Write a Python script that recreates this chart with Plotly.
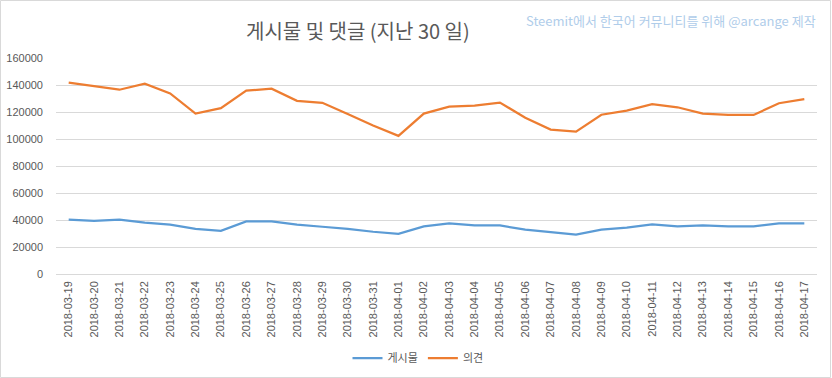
import plotly.graph_objects as go

dates = ["2018-03-19","2018-03-20","2018-03-21","2018-03-22","2018-03-23","2018-03-24",
         "2018-03-25","2018-03-26","2018-03-27","2018-03-28","2018-03-29","2018-03-30",
         "2018-03-31","2018-04-01","2018-04-02","2018-04-03","2018-04-04","2018-04-05",
         "2018-04-06","2018-04-07","2018-04-08","2018-04-09","2018-04-10","2018-04-11",
         "2018-04-12","2018-04-13","2018-04-14","2018-04-15","2018-04-16","2018-04-17"]

posts = [40200, 39300, 40200, 38000, 36500, 33500, 32000, 39000, 39000, 36500,
         35000, 33500, 31300, 29800, 35300, 37500, 36000, 36000, 32800, 30900,
         29100, 32800, 34300, 36800, 35300, 36000, 35300, 35300, 37500, 37500]

comments = [141700, 139000, 136500, 141000, 133800, 118800, 122800, 135800, 137300, 128300,
            126800, 118500, 110000, 102300, 118800, 124000, 124700, 127000, 115700, 107000,
            105500, 118000, 121000, 125800, 123500, 118800, 117800, 117800, 126500, 129500]

y_ticks = [0, 20000, 40000, 60000, 80000, 100000, 120000, 140000, 160000]

W, H = 832, 378
L, R, T, B = 56, 15, 58, 104
PW, PH = W - L - R, H - T - B

fig = go.Figure()
fig.add_trace(go.Scatter(x=dates, y=posts, mode="lines", name="게시물",
                         line=dict(color="#5b9bd5", width=2.25)))
fig.add_trace(go.Scatter(x=dates, y=comments, mode="lines", name="의견",
                         line=dict(color="#ed7d31", width=2.25)))

def px_x(p):
    return (p - L) / PW

def px_y(p):
    return (H - B - p) / PH

fig.update_layout(
    width=W, height=H,
    margin=dict(l=L, r=R, t=T, b=B, pad=0, autoexpand=False),
    paper_bgcolor="white", plot_bgcolor="white",
    font=dict(family="Liberation Sans, Noto Sans CJK KR", size=11, color="#595959"),
    showlegend=True,
    legend=dict(orientation="h", xref="container", yref="container",
                x=418 / W, xanchor="center", y=1 - 358 / H, yanchor="middle",
                font=dict(family="Noto Sans CJK KR", size=11, color="#595959"),
                itemwidth=30, tracegroupgap=0, bgcolor="rgba(0,0,0,0)"),
    xaxis=dict(type="category", categoryorder="array", categoryarray=dates,
               tickangle=-90, showgrid=False, showline=False, ticks="",
               ticklabelstandoff=4,
               tickfont=dict(family="Liberation Sans", size=11, color="#595959"),
               range=[-0.5, len(dates) - 0.5], fixedrange=True, automargin=False),
    yaxis=dict(range=[0, 160000], tickvals=y_ticks, ticktext=[str(v) for v in y_ticks],
               showgrid=True, gridcolor="#d9d9d9", gridwidth=1, zeroline=True,
               zerolinecolor="#d9d9d9", zerolinewidth=1, showline=False, ticks="",
               ticklabelstandoff=12,
               tickfont=dict(family="Liberation Sans", size=11, color="#595959"),
               fixedrange=True, automargin=False),
    annotations=[
        dict(text="게시물 및 댓글 (지난 30 일)", xref="paper", yref="paper",
             x=px_x(358), y=px_y(30), xanchor="center", yanchor="middle", showarrow=False,
             font=dict(family="Noto Sans CJK KR", size=20, color="#595959")),
        dict(text="Steemit에서 한국어 커뮤니티를 위해 @arcange 제작", xref="paper", yref="paper",
             x=px_x(818), y=px_y(20), xanchor="right", yanchor="middle", showarrow=False,
             font=dict(family="Noto Sans CJK KR", size=13, color="#b0cdea")),
    ],
    shapes=[
        dict(type="rect", xref="paper", yref="paper",
             x0=px_x(0.5), x1=px_x(830.5), y0=px_y(377.5), y1=px_y(0.5),
             line=dict(color="#d9d9d9", width=1), fillcolor="rgba(0,0,0,0)", layer="below"),
    ],
)

fig.write_html("out.html", config={"displayModeBar": False, "staticPlot": True},
               post_script="document.body.style.margin='0';document.body.style.padding='0';")
